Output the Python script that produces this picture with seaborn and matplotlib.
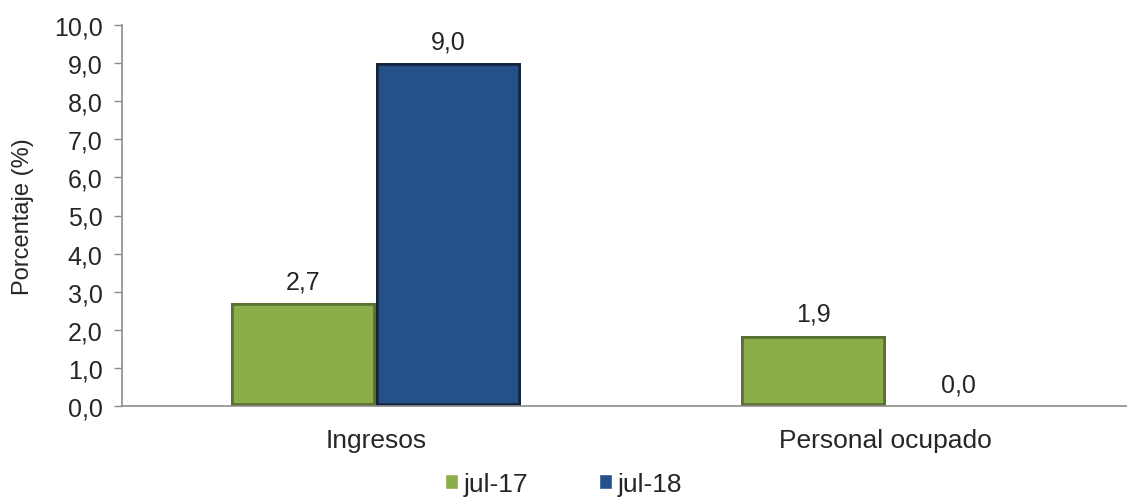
"""Variación porcentual de ingresos y personal ocupado, jul-17 vs jul-18."""
import matplotlib.pyplot as plt
import pandas as pd
import seaborn as sns
from matplotlib.ticker import FuncFormatter, MultipleLocator

categorias = ["Ingresos", "Personal ocupado"]
periodos = ["jul-17", "jul-18"]
valores_jul17 = [2.7, 1.85]
valores_jul18 = [9.0, 0.0]

colores = ["#8bad4a", "#26508a"]
bordes = ["#5a7030", "#14263f"]

df = pd.DataFrame({
    "categoria": categorias * 2,
    "periodo": [periodos[0]] * len(categorias) + [periodos[1]] * len(categorias),
    "valor": valores_jul17 + valores_jul18,
})

sns.set_style("white")
plt.rcParams["font.family"] = ["Liberation Sans", "DejaVu Sans"]


def coma(v, _=None):
    return f"{v:.1f}".replace(".", ",")


fig = plt.figure(figsize=(11.27, 5.02), dpi=100)
ax = fig.add_axes([122 / 1127, 1 - 407 / 502, 1 - 122 / 1127, 381 / 502])

sns.barplot(data=df, x="categoria", y="valor", hue="periodo", hue_order=periodos,
            palette=colores, width=0.57, saturation=1, ax=ax, legend=True)

# bisel: borde interior oscuro recortado a cada barra
for cont, borde in zip(ax.containers, bordes):
    for bar in cont:
        bar.set_edgecolor(borde)
        bar.set_linewidth(4)
        bar.set_clip_path(bar)
    ax.bar_label(cont, labels=[coma(b.get_height()) for b in cont], padding=7, fontsize=18)

ax.set_ylim(0, 10)
ax.set_xlim(-0.498, 1.473)
ax.yaxis.set_major_locator(MultipleLocator(1))
ax.yaxis.set_major_formatter(FuncFormatter(coma))
ax.set_xlabel("")
ax.set_ylabel("Porcentaje (%)", fontsize=17, labelpad=14)
ax.tick_params(axis="y", direction="out", length=6, width=1, color="#8c8c8c",
               labelsize=18, left=True, pad=8)
ax.tick_params(axis="x", length=0, labelsize=19, pad=16)

for lado in ["top", "right"]:
    ax.spines[lado].set_visible(False)
for lado in ["left", "bottom"]:
    ax.spines[lado].set_color("#8c8c8c")
    ax.spines[lado].set_linewidth(1.2)

handles, labels = ax.get_legend_handles_labels()
ax.legend(handles, labels, loc="lower center", bbox_to_anchor=(0.5, -0.038),
          bbox_transform=fig.transFigure, ncol=2, frameon=False, fontsize=19,
          handlelength=0.5, handleheight=0.5, handletextpad=0.2, columnspacing=2.7)

fig.savefig("out.png", dpi=100)
